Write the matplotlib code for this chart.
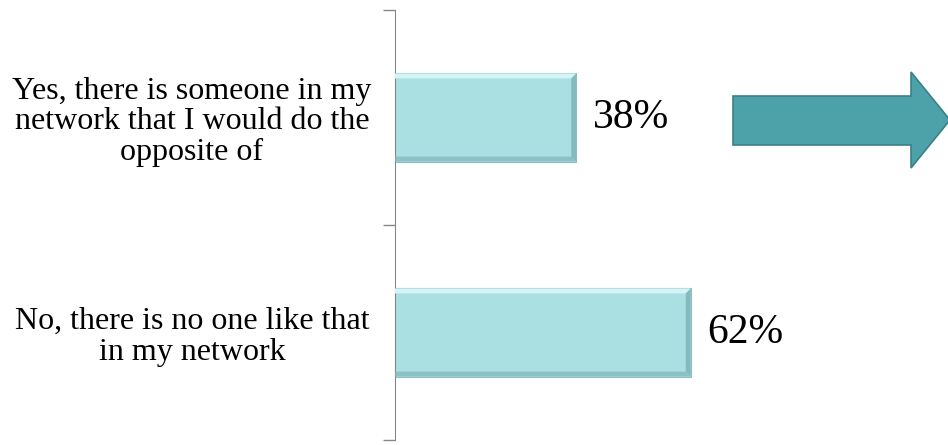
import matplotlib.pyplot as plt
import numpy as np
from matplotlib.patches import Polygon

# data
categories = ["Yes, there is someone in my\nnetwork that I would do the\nopposite of",
              "No, there is no one like that\nin my network"]
values = [38, 62]
value_labels = ["38%", "62%"]

bar_face = '#ABE0E3'
bar_light = '#D4F4F6'
bar_dark = '#7FB5B9'
arrow_col = '#4DA2A9'

W, H = 948, 445
fig = plt.figure(figsize=(W / 100, H / 100), dpi=100)
ax_left, ax_bottom, ax_top = 395 / W, 5 / H, 435 / H
ax = fig.add_axes([ax_left, ax_bottom, 1 - ax_left, ax_top - ax_bottom])

px_per_unit = 4.77
ax.set_xlim(0, (W - 395) / px_per_unit)
ax.set_ylim(len(categories) - 0.5, -0.5)

ypos = np.arange(len(categories))
bh = 0.41
ax.barh(ypos, values, height=bh, color=bar_face, edgecolor='#8FBFC2', linewidth=0.8, zorder=2)

# bevel look on each bar
ppy = (ax_top - ax_bottom) * H / len(categories)
bx = 5 / px_per_unit
by = 5 / ppy
for y, v in zip(ypos, values):
    top, bot = y - bh / 2, y + bh / 2
    ax.add_patch(Polygon([(0, top), (v, top), (v - bx, top + by), (0, top + by)],
                         closed=True, color=bar_light, lw=0, zorder=3))
    ax.add_patch(Polygon([(0, bot), (v, bot), (v - bx, bot - by), (0, bot - by)],
                         closed=True, color=bar_dark, lw=0, zorder=3, alpha=0.7))
    ax.add_patch(Polygon([(v, top), (v, bot), (v - bx, bot - by), (v - bx, top + by)],
                         closed=True, color=bar_dark, lw=0, zorder=3, alpha=0.85))

for y, v, lab in zip(ypos, values, value_labels):
    ax.text(v + 17 / px_per_unit, y, lab, va='center', ha='left',
            fontsize=30, family='Liberation Serif')

ax.set_yticks([-0.5, 0.5, 1.5])
ax.set_yticklabels([])
ax.tick_params(axis='y', length=9, color='#888888', width=1)
ax.set_xticks([])
for side in ['top', 'right', 'bottom']:
    ax.spines[side].set_visible(False)
ax.spines['left'].set_color('#888888')

for y, lab in zip(ypos, categories):
    ax.text(-203 / px_per_unit, y + 0.02, lab, ha='center', va='center', multialignment='center',
            fontsize=23, family='Liberation Serif', linespacing=1.08, clip_on=False)

# teal arrow on the right
def fx(px):
    return px / W

def fy(py):
    return 1 - py / H

arrow_pts = [(733, 96), (911, 96), (911, 72), (950, 120), (911, 168), (911, 145), (733, 145)]
fig.patches.append(Polygon([(fx(x), fy(y)) for x, y in arrow_pts], closed=True,
                           transform=fig.transFigure, facecolor=arrow_col,
                           edgecolor='#3A8188', linewidth=1.2))

fig.savefig('out.png', dpi=100)
